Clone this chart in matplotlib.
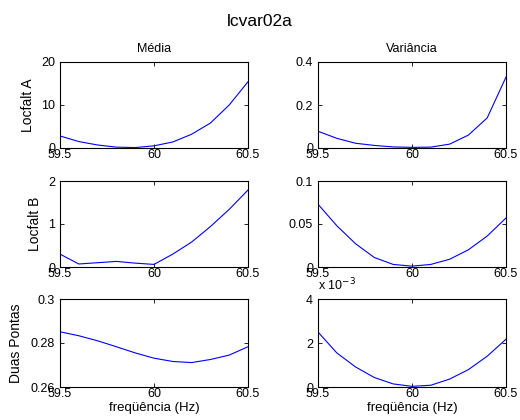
import numpy as np
import matplotlib
matplotlib.use("Agg")
import matplotlib.pyplot as plt

plt.rcParams['font.family'] = ['Liberation Sans', 'DejaVu Sans']

# frequencies (Hz)
freq = [59.5, 59.6, 59.7, 59.8, 59.9, 60.0, 60.1, 60.2, 60.3, 60.4, 60.5]

# Locfalt A
media_a = [2.8, 1.5, 0.7, 0.2, 0.1, 0.5, 1.4, 3.2, 5.8, 10.0, 15.4]
var_a = [0.078, 0.045, 0.022, 0.012, 0.005, 0.003, 0.004, 0.018, 0.06, 0.14, 0.33]

# Locfalt B
media_b = [0.30, 0.07, 0.10, 0.13, 0.09, 0.06, 0.30, 0.58, 0.94, 1.34, 1.79]
var_b = [0.073, 0.048, 0.027, 0.011, 0.003, 0.001, 0.003, 0.009, 0.020, 0.036, 0.057]

# Duas Pontas
media_dp = [0.2851, 0.2833, 0.2810, 0.2783, 0.2755, 0.2731, 0.2716, 0.2711, 0.2725, 0.2745, 0.2783]
var_dp = [2.50e-3, 1.55e-3, 0.91e-3, 0.43e-3, 0.14e-3, 0.03e-3, 0.08e-3, 0.36e-3, 0.79e-3, 1.40e-3, 2.17e-3]

row_labels = ['Locfalt A', 'Locfalt B', 'Duas Pontas']
col_titles = ['Média', 'Variância']

fig = plt.figure(figsize=(5.2, 4.2), dpi=100)

W, H = 520.0, 420.0
lefts = [60, 318]
rows = [(62, 148), (181, 267), (299, 387)]
ylabel_x = [-0.133, -0.096, -0.197]

data = [
    (media_a, var_a, [0, 10, 20], (0, 20), [0, 0.2, 0.4], (0, 0.4)),
    (media_b, var_b, [0, 1, 2], (0, 2), [0, 0.05, 0.1], (0, 0.1)),
    (media_dp, [v * 1e3 for v in var_dp], [0.26, 0.28, 0.3], (0.26, 0.3), [0, 2, 4], (0, 4)),
]

for r, (top, bot) in enumerate(rows):
    m, v, yt_m, yl_m, yt_v, yl_v = data[r]
    for c in range(2):
        ax = fig.add_axes([lefts[c] / W, (H - bot) / H, 188 / W, (bot - top) / H])
        y = m if c == 0 else v
        ax.plot(freq, y, color='blue', lw=0.8)
        ax.set_xlim(59.5, 60.5)
        ax.set_xticks([59.5, 60, 60.5])
        ax.set_xticklabels(['59.5', '60', '60.5'])
        if c == 0:
            ax.set_ylim(*yl_m)
            ax.set_yticks(yt_m)
            ax.set_yticklabels([('%g' % t) for t in yt_m])
            ax.set_ylabel(row_labels[r], fontsize=10)
            ax.yaxis.set_label_coords(ylabel_x[r], 0.5)
        else:
            ax.set_ylim(*yl_v)
            ax.set_yticks(yt_v)
            ax.set_yticklabels([('%g' % t) for t in yt_v])
        ax.tick_params(direction='in', top=True, right=True, length=3,
                       labelsize=9, width=0.6)
        ax.tick_params(axis='x', pad=1)
        ax.tick_params(axis='y', pad=3.5)
        for s in ax.spines.values():
            s.set_linewidth(0.8)
        if r == 0:
            ax.set_title(col_titles[c], fontsize=9, pad=7)
        if r == 2:
            ax.set_xlabel('freqüência (Hz)', fontsize=9.5, labelpad=1)

fig.text(0.5, 1 - 21 / H, 'lcvar02a', ha='center', va='center', fontsize=12.5)
fig.text(318 / W, 1 - 293 / H, r'x 10$^{-3}$', ha='left', va='bottom', fontsize=9)

fig.savefig('out.png', dpi=100)
